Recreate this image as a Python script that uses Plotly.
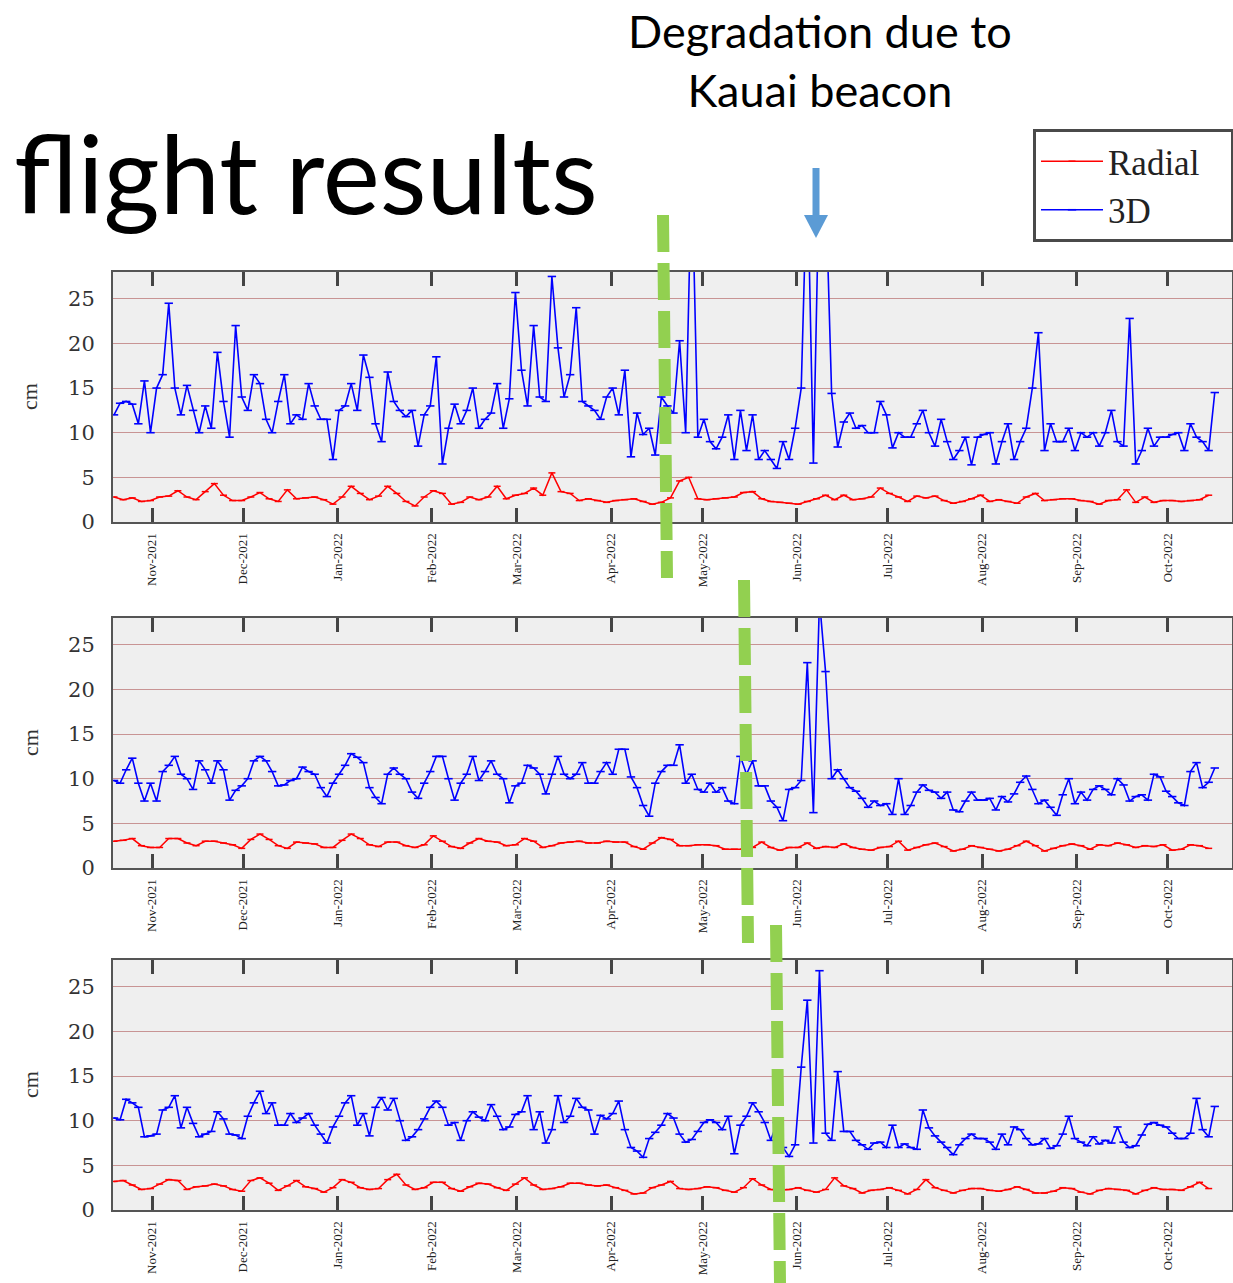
import plotly.graph_objects as go
import pandas as pd

W, H = 1233, 1283

# ---------------- data (cm) ----------------
# 3D error, sampled every 2 days starting 2021-10-19
top_3d = [12, 13.3, 13.5, 13.2, 11, 15.8, 10, 15, 16.5, 24.5, 15, 12, 15.3, 12.5, 10, 13, 10.5, 19, 13.5, 9.5,
          22, 14, 12.5, 16.5, 15.5, 11.5, 10, 13.5, 16.5, 11, 12, 11.5, 15.5, 13, 11.5, 11.5, 7, 12.5, 13, 15.5,
          12.5, 18.7, 16.2, 11, 9, 16.8, 13.5, 12.5, 11.8, 12.5, 8.5,
          12, 13, 18.5, 6.5, 10.5, 13.2, 11, 12.5, 15, 10.5, 11.5, 12.2, 15.5, 10.5, 13.8, 25.7, 17, 13, 22, 14,
          13.5, 27.5, 19.5, 14, 16.5, 24, 13.5, 13, 12.5, 11.5, 14, 15, 12, 17, 7.3, 12.2, 9.8, 10.5, 7.5, 14,
          13, 12.2, 20.3, 10, 40, 9.5, 11.5, 9, 8.2, 9.5, 12, 7, 12.5, 8, 12, 7, 8, 7, 6, 9,
          7, 10.5, 15, 40, 6.6, 40, 38, 14.4, 8.4, 11.2, 12.2,
          10.5, 10.8, 10, 10, 13.5, 12, 8.3, 10, 9.5, 9.5, 11, 12.5, 10, 8.5, 11.5, 9, 7, 8, 9.5, 6.4,
          9.5, 9.8, 10, 6.5, 9, 11, 7, 9, 10.5, 15, 21.2, 8, 11, 9, 9, 10.5, 8, 10, 9.5, 10,
          8.5, 10, 12.5, 9, 8.5, 22.8, 6.5, 8, 10.5, 8.5, 9.5, 9.5, 9.8, 10, 8, 11, 9.5, 9, 8, 14.5]

mid_3d = [9.8, 9.5, 11, 12.3, 9.5, 7.5, 9.5, 7.5, 10.8, 11.5, 12.5, 10.5, 10, 8.8, 12, 11, 9.5, 12, 11, 7.6,
          8.7, 9.2, 10, 12, 12.5, 12, 10.8, 9.2, 9.3, 9.8, 10, 11.3, 10.8, 10.5, 9, 8, 9.5, 10.5, 11.5, 12.8,
          12.4, 11.8, 9, 7.9, 7.2, 10.5, 11.2, 10.5, 10, 8.5, 7.8,
          9.5, 10.8, 12.5, 12.5, 10, 7.6, 9.5, 10.5, 12.5, 9.8, 10.8, 12, 10.5, 10, 7.3, 9.2, 9.5, 11.5, 11.2, 10.5,
          8.3, 10.5, 12.5, 10.5, 10, 10.5, 11.8, 9.5, 9.5, 10.8, 11.8, 10.5, 13.3, 13.3, 10.2, 9, 7, 5.8, 9.5, 10.8,
          11.5, 11.5, 13.8, 9.5, 10.5, 8.8, 8.5, 9.5, 8.5, 9, 7.5, 7.2, 12.5, 10.5, 12, 9.2, 9.2, 7.5, 6.8, 5.3,
          8.8, 9, 9.8, 23, 6.2, 30,
          22, 10, 11, 10, 9, 8.6, 7.8, 6.8, 7.5, 7.0, 7.2, 6.0, 10, 6.0, 7, 8.5, 9.3, 8.7, 8.5, 7.8,
          8.5, 6.5, 6.3, 7.5, 8.5, 7.6, 7.6, 7.8, 6.5, 8.0, 7.4, 8.3, 9.6, 10.3, 8.8, 7.2, 7.6, 6.8, 5.9, 8.2,
          10, 7.2, 8.5, 7.6, 8.8, 9.2, 8.8, 8.2, 10, 9.3, 7.5, 8, 8.2, 7.6, 10.5, 10.2, 8.6, 8.0, 7.3, 7.0,
          10.8, 11.8, 9, 9.6, 11.2]

bot_3d = [10.3, 10.1, 12.4, 12, 11.5, 8.2, 8.3, 8.5, 11.2, 11.5, 12.8, 9.2, 11.5, 9.7, 8.2, 8.5, 8.8, 11, 10.2, 8.5,
          8.4, 8.0, 10.5, 12, 13.3, 10.8, 12, 9.5, 9.5, 10.8, 9.8, 10.3, 10.8, 9.5, 8.5, 7.5, 9.3, 10.5, 12, 12.8,
          9.5, 10.8, 8.3, 11.5, 12.6, 11.2, 12.5, 10, 7.8, 8.2, 9.0,
          10.2, 11.5, 12.2, 11.5, 9.5, 9.8, 7.8, 10, 11, 10.4, 10, 11.8, 10.5, 9, 9.3, 10.7, 11, 12.8, 9.0, 11,
          7.5, 9, 12.8, 9.8, 10.5, 12.5, 11.5, 11.2, 8.5, 10.6, 10.2, 10.8, 12.2, 9.0, 7.0, 6.6, 5.9, 8.0, 8.7, 9.5,
          10.8, 10.3, 8.5, 7.6, 7.9, 8.8, 9.8, 10.1, 9.8, 9.0, 10.5, 6.3, 9.5, 10.5, 12, 11, 9.8, 7.8, 9.8, 7.0,
          6.0, 7.3, 16, 23.5, 7.5, 26.8,
          8.6, 7.8, 15.5, 8.8, 8.8, 7.8, 7.3, 6.8, 7.5, 7.6, 7.0, 9.5, 7.0, 7.4, 7.0, 6.8, 11.2, 9.2, 8.3, 7.6,
          7.0, 6.2, 7.3, 8.0, 8.5, 8.0, 8.0, 7.6, 6.8, 8.5, 7.3, 9.3, 9.0, 8.0, 7.3, 7.4, 8.0, 6.9, 7.2, 8.5,
          10.5, 8.0, 7.6, 7.2, 8.2, 7.4, 7.8, 7.5, 9.3, 7.6, 7.0, 7.2, 8.4, 9.6, 9.8, 9.5, 9.3, 8.6, 8.0, 8.0,
          8.6, 12.5, 9.0, 8.2, 11.6]

# Radial error, sampled every 3 days starting 2021-10-19
top_radial = [2.8, 2.5, 2.7, 2.3, 2.4, 2.8, 2.9, 3.5, 2.8, 2.5, 3.4, 4.3, 3.0, 2.4, 2.4, 2.8, 3.3, 2.6, 2.3, 3.6,
              2.6, 2.7, 2.8, 2.5, 2.0, 2.8, 4.0, 3.2, 2.5, 2.9, 4.0, 3.2, 2.3, 1.8,
              2.8, 3.5, 3.2, 2.0, 2.2, 2.8, 2.5, 2.8, 4.0, 2.6, 3.0, 3.2, 3.8, 3.0, 5.5, 3.4, 3.2, 2.4, 2.6, 2.4,
              2.2, 2.4, 2.5, 2.6, 2.3, 2.0, 2.2, 2.7, 4.6, 5.0, 2.6, 2.5, 2.6, 2.7, 2.8, 3.3, 3.4, 2.6, 2.3, 2.2,
              2.1, 2.0, 2.3, 2.6,
              3.0, 2.5, 3.0, 2.5, 2.6, 2.8, 3.8, 3.2, 2.8, 2.3, 2.9, 2.7, 2.9, 2.4, 2.1, 2.3, 2.6, 3.0, 2.3, 2.5,
              2.3, 2.1, 2.8, 3.2, 2.4, 2.5, 2.6, 2.6, 2.4, 2.3, 2.0, 2.4, 2.5, 3.6, 2.2, 2.8, 2.2, 2.4, 2.4, 2.3,
              2.4, 2.5, 3.0]

mid_radial = [3.0, 3.1, 3.3, 2.5, 2.3, 2.3, 3.3, 3.3, 2.8, 2.5, 3.0, 3.0, 2.8, 2.6, 2.2, 3.2, 3.8, 3.2, 2.5, 2.2,
              2.9, 2.8, 2.7, 2.3, 2.3, 3.1, 3.8, 3.3, 2.6, 2.4, 2.9, 2.9, 2.5, 2.3,
              2.6, 3.6, 3.0, 2.4, 2.2, 2.8, 3.3, 3.0, 2.9, 2.5, 2.6, 3.3, 3.0, 2.3, 2.5, 2.8, 2.9, 3.0, 2.8, 2.8,
              3.0, 2.9, 2.9, 2.4, 2.1, 2.8, 3.4, 3.2, 2.5, 2.5, 2.6, 2.6, 2.5, 2.1, 2.1, 2.1, 2.3, 2.9, 2.3, 2.0,
              2.3, 2.3, 2.8, 2.2,
              2.4, 2.3, 2.7, 2.3, 2.1, 2.0, 2.3, 2.4, 3.0, 2.0, 2.3, 2.6, 2.8, 2.4, 1.9, 2.1, 2.5, 2.3, 2.1, 1.9,
              2.1, 2.5, 3.0, 2.5, 1.9, 2.2, 2.5, 2.7, 2.5, 2.1, 2.6, 2.5, 2.8, 2.6, 2.3, 2.5, 2.4, 2.6, 2.0, 2.1,
              2.6, 2.5, 2.2]

bot_radial = [3.2, 3.3, 2.8, 2.3, 2.4, 2.9, 3.4, 3.3, 2.3, 2.6, 2.7, 2.9, 2.7, 2.3, 2.1, 3.3, 3.6, 3.0, 2.2, 2.7,
              3.3, 2.6, 2.4, 2.0, 2.5, 3.4, 3.1, 2.5, 2.3, 2.4, 3.4, 4.0, 2.8, 2.3,
              2.5, 3.1, 3.1, 2.4, 2.1, 2.6, 3.0, 2.9, 2.5, 2.2, 2.9, 3.6, 2.8, 2.3, 2.4, 2.6, 3.0, 3.0, 2.8, 2.7,
              2.8, 2.5, 2.2, 1.8, 1.9, 2.5, 2.8, 3.2, 2.4, 2.3, 2.4, 2.6, 2.5, 2.2, 2.0, 2.5, 3.5, 2.8, 2.3, 2.2,
              2.3, 2.5, 2.2, 2.0,
              2.3, 3.6, 2.7, 2.4, 1.9, 2.2, 2.3, 2.5, 2.2, 1.8, 2.3, 3.4, 2.5, 2.2, 1.9, 2.2, 2.4, 2.4, 2.2, 2.1,
              2.3, 2.6, 2.3, 1.9, 1.9, 2.1, 2.5, 2.4, 2.0, 1.8, 2.2, 2.4, 2.3, 2.2, 1.8, 2.2, 2.5, 2.3, 2.3, 2.2,
              2.6, 3.1, 2.4]

series_start = "2021-10-19 12:00"
x_range = ["2021-10-19 04:00", "2022-10-22 04:00"]
y_ticks = [0, 5, 10, 15, 20, 25]

# ---------------- styling helpers ----------------
RED = "#ff0000"
BLUE = "#0000ff"
SERIF = "Liberation Serif"
SANS = "Lato"


def px(x):
    """pixel x -> paper fraction"""
    return x / W


def py(y):
    """pixel y (from top) -> paper fraction"""
    return 1 - y / H


panel_px = [(272, 522), (618, 868), (960, 1210)]
x_left, x_right = 113, 1232

panels = [(top_radial, top_3d), (mid_radial, mid_3d), (bot_radial, bot_3d)]

fig = go.Figure()
for k, (rad, d3) in enumerate(panels):
    xa = "x" if k == 0 else f"x{k + 1}"
    ya = "y" if k == 0 else f"y{k + 1}"
    d_rad = pd.date_range(series_start, periods=len(rad), freq="3D")
    d_3d = pd.date_range(series_start, periods=len(d3), freq="2D")
    fig.add_trace(go.Scatter(
        x=d_rad, y=rad, mode="lines+markers", name="Radial\u00a0\u00a0\u00a0",
        line=dict(color=RED, width=1.5),
        marker=dict(symbol="line-ew", size=5, color=RED, line=dict(width=1.5, color=RED)),
        xaxis=xa, yaxis=ya, showlegend=(k == 0)))
    fig.add_trace(go.Scatter(
        x=d_3d, y=d3, mode="lines+markers", name="3D",
        line=dict(color=BLUE, width=1.6),
        marker=dict(symbol="line-ew", size=6, color=BLUE, line=dict(width=1.6, color=BLUE)),
        xaxis=xa, yaxis=ya, showlegend=(k == 0)))

layout = dict(
    width=W, height=H,
    margin=dict(l=0, r=0, t=0, b=0, autoexpand=False),
    paper_bgcolor="white",
    plot_bgcolor="#efefef",
    legend=dict(x=px(1033), y=py(129), xanchor="left", yanchor="top",
                bgcolor="white", bordercolor="#4a4a4a", borderwidth=3,
                font=dict(family=SERIF, size=35, color="#222222"),
                itemwidth=62, tracegroupgap=0),
    annotations=[],
    shapes=[],
)

for k, (ytop, ybot) in enumerate(panel_px):
    xk = "xaxis" if k == 0 else f"xaxis{k + 1}"
    yk = "yaxis" if k == 0 else f"yaxis{k + 1}"
    anchor_y = "y" if k == 0 else f"y{k + 1}"
    anchor_x = "x" if k == 0 else f"x{k + 1}"
    layout[xk] = dict(
        domain=[px(x_left), px(x_right)], anchor=anchor_y, type="date",
        range=x_range, dtick="M1", tick0="2021-11-01", tickformat="%b-%Y",
        tickangle=-90, ticks="inside", ticklen=14, tickwidth=2.5, tickcolor="#444444",
        showline=True, linecolor="#555555", linewidth=2, mirror="ticks",
        showgrid=False, zeroline=False, ticklabelstandoff=4,
        tickfont=dict(family=SERIF, size=13, color="#222222"),
    )
    layout[yk] = dict(
        domain=[py(ybot), py(ytop)], anchor=anchor_x,
        range=[0, 28], tickvals=y_ticks, ticks="",
        showline=True, linecolor="#555555", linewidth=2, mirror=True,
        showgrid=True, gridcolor="#c89494", gridwidth=1, zeroline=False,
        ticklabelstandoff=12,
        tickfont=dict(family="DejaVu Serif", size=21, color="#333333"),
    )
    layout["annotations"].append(dict(
        text="cm", x=px(30), y=py((ytop + ybot) / 2), xref="paper", yref="paper",
        showarrow=False, textangle=-90, xanchor="center", yanchor="middle",
        font=dict(family=SERIF, size=22, color="#333333")))

layout["annotations"].append(dict(
    text="flight results", x=px(12), y=py(172), xref="paper", yref="paper",
    showarrow=False, xanchor="left", yanchor="middle",
    font=dict(family=SANS, size=108, color="black")))
layout["annotations"].append(dict(
    text="Degradation due to<br>Kauai beacon", x=px(820), y=py(61), xref="paper", yref="paper",
    showarrow=False, xanchor="center", yanchor="middle", align="center",
    font=dict(family=SANS, size=45, color="black")))

# blue arrow
ARROW = "#5b9bd5"
layout["shapes"].append(dict(type="rect", xref="paper", yref="paper",
                             x0=px(812.5), x1=px(819.5), y0=py(168), y1=py(216),
                             fillcolor=ARROW, line=dict(width=0)))
layout["shapes"].append(dict(type="path", xref="paper", yref="paper",
                             path=f"M {px(804)} {py(215)} L {px(828)} {py(215)} L {px(816)} {py(238)} Z",
                             fillcolor=ARROW, line=dict(width=0)))

# green dashed markers
GREEN = "#92d050"
for (x0, y0, x1, y1) in [(663, 215, 667, 578), (744, 580, 748, 943), (776, 925, 780, 1283)]:
    layout["shapes"].append(dict(type="line", xref="paper", yref="paper",
                                 x0=px(x0), y0=py(y0), x1=px(x1), y1=py(y1),
                                 line=dict(color=GREEN, width=12, dash="37px,11px")))

fig.update_layout(**layout)
# remove the default 8px page margin so the figure fills the window exactly
fig.write_html("out.html", config={"displayModeBar": False},
               post_script="document.body.style.margin='0px';document.body.style.overflow='hidden';")
